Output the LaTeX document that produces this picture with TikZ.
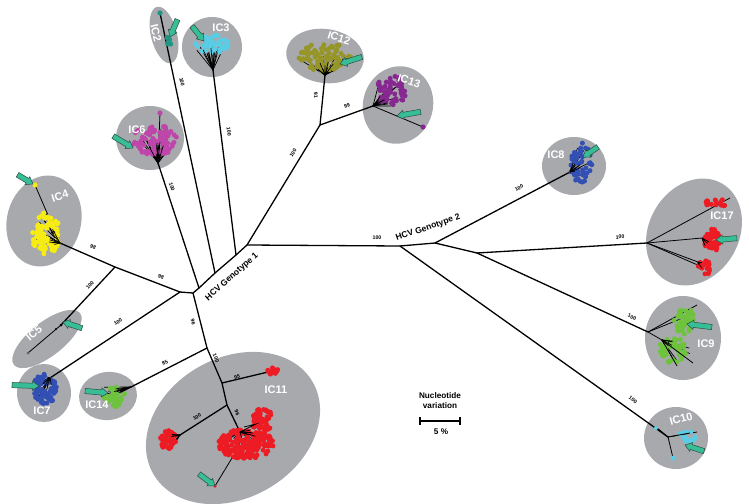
\documentclass[tikz,border=0pt]{standalone}
\usepackage{fontspec}
\setmainfont{Liberation Sans}
\usetikzlibrary{calc}
\definecolor{ellg}{RGB}{168,169,173}
\definecolor{arrowc}{RGB}{55,190,150}
\definecolor{arrowd}{RGB}{45,75,65}
\definecolor{yel}{RGB}{246,236,20}
\definecolor{mag}{RGB}{190,70,170}
\definecolor{purp}{RGB}{135,40,145}
\definecolor{oliv}{RGB}{150,150,40}
\definecolor{cya}{RGB}{90,205,230}
\definecolor{tea}{RGB}{30,150,130}
\definecolor{blu}{RGB}{50,80,180}
\definecolor{redc}{RGB}{237,28,36}
\definecolor{grn}{RGB}{110,195,60}
\newcommand\blob[6]{%
  \foreach \k in {1,...,#5}{%
    \pgfmathsetmacro\bang{360*rnd}%
    \pgfmathsetmacro\brad{sqrt(rnd)}%
    \fill[#6] ({#1+#3*\brad*cos(\bang)},{#2+#4*\brad*sin(\bang)}) circle (2.5pt);
  }}
\newcommand\spk[7]{%
  \foreach \k in {1,...,#7}{%
    \pgfmathsetmacro\bang{360*rnd}%
    \pgfmathsetmacro\brad{sqrt(rnd)}%
    \draw[black, line width=0.7pt] (#1,#2) -- ({#3+#5*\brad*cos(\bang)},{#4+#6*\brad*sin(\bang)});
  }}
\tikzset{
  br/.style={black, line width=1.3pt, line cap=round},
  thinbr/.style={black, line width=0.8pt},
  ell/.style={fill=ellg},
  iclab/.style={text=white, font=\bfseries\fontsize{11}{12}\selectfont, inner sep=0pt},
  bs/.style={font=\bfseries\fontsize{5.2}{6}\selectfont, inner sep=0pt},
  gl/.style={font=\bfseries\fontsize{8.6}{10}\selectfont, inner sep=0pt},
  sc/.style={font=\bfseries\fontsize{8.2}{10}\selectfont, inner sep=0pt},
  pics/tarr/.style 2 args={code={
    \filldraw[fill=arrowc, draw=arrowd, line width=0.5pt, rotate=#1]
      (0,0) -- (-6.5,4.6) -- (-6.5,2.6) -- (-#2,2.6) -- (-#2,-2.6) -- (-6.5,-2.6) -- (-6.5,-4.6) -- cycle;
  }}
}
\begin{document}
\begin{tikzpicture}[x=1pt,y=-1pt]
\pgfmathsetseed{7}
\useasboundingbox (0,0) rectangle (749,503);
% ellipses
\fill[ell, rotate around={14:(164,35)}] (164,35) ellipse [x radius=13pt, y radius=29pt];
\fill[ell] (212,47) circle (30pt);
\fill[ell] (150,138) ellipse [x radius=34pt, y radius=32pt];
\fill[ell, rotate around={-15:(44,221)}] (44,221) ellipse [x radius=37pt, y radius=46pt];
\fill[ell, rotate around={38:(47,339)}] (47,339) ellipse [x radius=42pt, y radius=17pt];
\fill[ell] (44,393) ellipse [x radius=27pt, y radius=29pt];
\fill[ell, rotate around={8:(108,396)}] (108,396) ellipse [x radius=29pt, y radius=24pt];
\fill[ell, rotate around={30:(233,428)}] (233,428) ellipse [x radius=92pt, y radius=70pt];
\fill[ell, rotate around={-8:(325,56)}] (325,56) ellipse [x radius=39pt, y radius=27pt];
\fill[ell, rotate around={-15:(398,105)}] (398,105) ellipse [x radius=35pt, y radius=39pt];
\fill[ell] (574,166) ellipse [x radius=32pt, y radius=29pt];
\fill[ell, rotate around={-30:(694,232)}] (694,232) ellipse [x radius=45pt, y radius=56pt];
\fill[ell] (683,338) ellipse [x radius=38pt, y radius=42pt];
\fill[ell] (676,438) ellipse [x radius=32pt, y radius=31pt];
% tree nodes
\coordinate (H1) at (193,293);
\coordinate (L) at (180,292);
\coordinate (Q) at (115,267);
\coordinate (J4) at (60,243);
\coordinate (T4) at (35,185);
\coordinate (J5) at (61,325);
\coordinate (T5) at (28,353);
\coordinate (J7) at (50,378);
\coordinate (M) at (207,348);
\coordinate (J14) at (131,387);
\coordinate (N) at (222,383);
\coordinate (T11a) at (268,372);
\coordinate (P) at (227,405);
\coordinate (J11b) at (180,435);
\coordinate (J11c) at (240,432);
\coordinate (J11d) at (232,458);
\coordinate (T11d) at (215,486);
\coordinate (G6) at (199,288);
\coordinate (G2) at (215,273);
\coordinate (G3) at (236,255);
\coordinate (J) at (247,245);
\coordinate (J6) at (158,163);
\coordinate (T6) at (160,113);
\coordinate (T2) at (160,13);
\coordinate (J2) at (167,45);
\coordinate (J3) at (213,70);
\coordinate (K) at (320,125);
\coordinate (J12) at (325,75);
\coordinate (J13) at (373,106);
\coordinate (T13) at (423,127);
\coordinate (A) at (400,246);
\coordinate (B) at (435,243);
\coordinate (C) at (477,253);
\coordinate (J8) at (570,172);
\coordinate (J17) at (647,243);
\coordinate (J9) at (648,332);
\coordinate (J10) at (668,437);
% main branches
\draw[br] (L) -- (H1) -- (G6) -- (G2) -- (G3) -- (J) -- (A) -- (B) -- (C);
\draw[br] (L) -- (Q) -- (J4);
\draw[br] (Q) -- (J5);
\draw[thinbr] (J5) -- (T5);
\draw[br] (L) -- (J7);
\draw[br] (H1) -- (M) -- (N) -- (P) -- (J11c);
\draw[br] (M) -- (J14);
\draw[br] (N) -- (T11a);
\draw[br] (P) -- (J11b);
\draw[thinbr] (J11d) -- (T11d);
\draw[br] (G6) -- (J6);
\draw[thinbr] (J6) -- (T6);
\draw[br] (G2) -- (T2);
\draw[br] (G3) -- (J3);
\draw[br] (J) -- (K) -- (J12);
\draw[br] (K) -- (J13);
\draw[thinbr] (J13) -- (T13);
\draw[thinbr] (J4) -- (T4);
\draw[br] (A) -- (J10);
\draw[br] (B) -- (J8);
\draw[br] (C) -- (J17);
\draw[br] (C) -- (J9);
% IC2
\blob{169}{41}{2.5}{5}{8}{tea}
\fill[tea] (T2) circle (2.6pt);
% IC3
\spk{213}{70}{210}{47}{16}{10}{10}
\blob{212}{44}{17}{9}{40}{cya}
\spk{213}{70}{208}{50}{7}{5}{6}
% IC6
\spk{158}{163}{155}{142}{22}{15}{12}
\blob{155}{140}{23}{15}{85}{mag}
\spk{158}{163}{158}{148}{9}{7}{8}
\fill[mag] (T6) circle (2.6pt);
% IC4
\spk{60}{243}{46}{234}{13}{22}{12}
\blob{46}{234}{14}{23}{90}{yel}
\spk{60}{243}{52}{238}{7}{10}{8}
\fill[yel] (T4) circle (2.6pt);
% IC12
\spk{325}{75}{325}{60}{26}{12}{14}
\blob{325}{57}{26}{14}{85}{oliv}
\spk{325}{75}{325}{66}{12}{5}{8}
% IC13
\spk{373}{106}{392}{96}{18}{14}{9}
\blob{391}{91}{15}{16}{65}{purp}
\spk{373}{106}{384}{100}{8}{6}{6}
\fill[purp] (T13) circle (2.6pt);
% IC8
\spk{570}{172}{581}{164}{10}{18}{9}
\blob{581}{163}{11}{21}{55}{blu}
\spk{570}{172}{576}{168}{5}{8}{6}
% IC17
\draw[thinbr] (J17) -- (730,198);
\draw[thinbr] (J17) -- (702,238);
\draw[thinbr] (J17) -- (698,262);
\draw[thinbr] (J17) -- (700,266);
\blob{717}{203}{12}{4}{16}{redc}
\blob{712}{240}{8}{12}{45}{redc}
\blob{704}{268}{7}{8}{22}{redc}
\spk{702}{238}{706}{240}{4}{6}{5}
\spk{698}{262}{701}{266}{3}{4}{4}
% IC9
\draw[thinbr] (J9) -- (697,305);
\draw[thinbr] (J9) -- (688,316);
\draw[thinbr] (J9) -- (662,340);
\spk{662}{340}{676}{352}{14}{12}{7}
\blob{684}{320}{10}{14}{40}{grn}
\blob{673}{350}{14}{13}{45}{grn}
\spk{662}{340}{670}{346}{6}{6}{5}
\draw[thinbr] (662,340) -- (693,363);
\draw[thinbr] (662,340) -- (677,366);
% IC10
\draw[thinbr] (J10) -- (656,427);
\draw[thinbr] (J10) -- (697,432);
\draw[thinbr] (J10) -- (673,458);
\blob{688}{437}{9}{6}{16}{cya}
\draw[thinbr] (J10) -- (690,433);
\fill[cya] (673,458) circle (2.4pt);
\fill[cya] (656,428) circle (2pt);
% IC5
\fill[black] (J5) circle (1.5pt);
\fill[black] (56,329) circle (1.1pt);
\fill[black!60] (T5) circle (1.5pt);
% IC7
\spk{50}{378}{46}{388}{12}{14}{10}
\blob{45}{389}{12}{15}{75}{blu}
\spk{50}{378}{47}{384}{6}{6}{7}
% IC14
\spk{131}{387}{110}{392}{14}{6}{7}
\blob{114}{397}{11}{10}{40}{grn}
\spk{131}{387}{118}{390}{6}{3}{5}
% IC11
\blob{273}{371}{6}{3.5}{14}{redc}
\spk{180}{435}{168}{440}{8}{9}{7}
\blob{168}{440}{8}{10}{40}{redc}
\spk{180}{435}{172}{437}{4}{4}{5}
\spk{240}{432}{248}{440}{22}{12}{12}
\blob{246}{444}{28}{15}{190}{redc}
\blob{262}{420}{12}{11}{55}{redc}
\spk{240}{432}{248}{434}{10}{5}{8}
\draw[thinbr] (J11c) -- (256,424) -- (244,427);
\fill[redc] (T11d) circle (1.8pt);
% arrows
\pic at (170,37) {tarr={-113}{19}};
\pic at (204,41) {tarr={-51}{19}};
\pic at (133,148) {tarr={-31}{23}};
\pic at (33,184) {tarr={-31}{18}};
\pic at (340,64) {tarr={-162}{23}};
\pic at (397,116) {tarr={-170}{24}};
\pic at (583,157) {tarr={-146}{18}};
\pic at (716,240) {tarr={-175}{21}};
\pic at (687,324) {tarr={173}{25}};
\pic at (685,445) {tarr={162}{20}};
\pic at (63,322) {tarr={162}{20}};
\pic at (39,386) {tarr={-2}{27}};
\pic at (108,393) {tarr={-5}{23}};
\pic at (215,486) {tarr={-37}{20}};
% IC labels
\node[iclab, rotate=-76] at (156,33) {IC2};
\node[iclab] at (221,28) {IC3};
\node[iclab] at (137,130) {IC6};
\node[iclab, rotate=17] at (60,196) {IC4};
\node[iclab, rotate=40] at (34,333) {IC5};
\node[iclab] at (42,411) {IC7};
\node[iclab] at (97,405) {IC14};
\node[iclab] at (276,390) {IC11};
\node[iclab, rotate=-18] at (339,38) {IC12};
\node[iclab, rotate=-18] at (409,81) {IC13};
\node[iclab] at (556,155) {IC8};
\node[iclab] at (722,216) {IC17};
\node[iclab] at (706,344) {IC9};
\node[iclab, rotate=15] at (681,419) {IC10};
% support values
\node[bs, rotate=-79] at (182,82) {100};
\node[bs, rotate=-83] at (229,132) {100};
\node[bs, rotate=-72] at (172,187) {100};
\node[bs, rotate=-24] at (93,247) {98};
\node[bs, rotate=-21] at (161,277) {98};
\node[bs, rotate=48] at (90,285) {100};
\node[bs, rotate=33] at (118,322) {100};
\node[bs, rotate=-76] at (193,322) {96};
\node[bs, rotate=27] at (165,363) {85};
\node[bs, rotate=-67] at (216,358) {100};
\node[bs, rotate=12] at (237,377) {95};
\node[bs, rotate=32] at (197,417) {100};
\node[bs, rotate=-70] at (237,413) {96};
\node[bs, rotate=-84] at (316,95) {91};
\node[bs, rotate=20] at (347,106) {99};
\node[bs, rotate=59] at (293,153) {100};
\node[bs] at (377,238) {100};
\node[bs, rotate=28] at (519,188) {100};
\node[bs, rotate=3] at (620,237) {100};
\node[bs, rotate=-25] at (632,317) {100};
\node[bs, rotate=-35] at (633,400) {100};
% genotype labels
\node[gl, rotate=42] at (232,277) {HCV Genotype 1};
\node[gl, rotate=19] at (428,228) {HCV Genotype 2};
% scale bar
\node[sc] (nv1) at (440,396) {Nucleotide};
\node[sc] (nv2) at (440,406) {variation};
\coordinate (s1) at (420,421);
\coordinate (s2) at (460,421);
\draw[black, line width=1.2pt] (s1) -- (s2);
\draw[black, line width=1.2pt] ($(s1)+(0,-4)$) -- ($(s1)+(0,4)$);
\draw[black, line width=1.2pt] ($(s2)+(0,-4)$) -- ($(s2)+(0,4)$);
\node[sc] at (441,432) {5 \%};
\end{tikzpicture}
\end{document}
